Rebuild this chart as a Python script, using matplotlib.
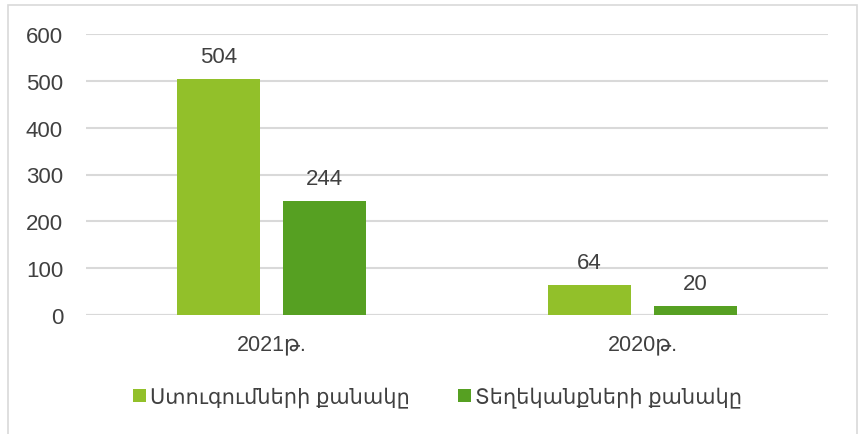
import numpy as np
import matplotlib.pyplot as plt
from matplotlib.patches import Rectangle

# Данные
categories = ["2021թ.", "2020թ."]
series_names = ["Ստուգումների քանակը", "Տեղեկանքների քանակը"]
inspections = [504, 64]
references = [244, 20]

colors = ["#92C02A", "#56A022"]
text_color = "#404040"
fonts = ["Liberation Sans", "DejaVu Sans"]
plt.rcParams["font.family"] = fonts

fig = plt.figure(figsize=(8.62, 4.35), dpi=100)
ax = fig.add_axes([86 / 862, 1 - 316 / 435, (828 - 86) / 862, (316 - 35) / 435])

x = np.arange(len(categories))
w = 0.224
off = 0.143
bars1 = ax.bar(x - off, inspections, w, color=colors[0], label=series_names[0], zorder=3)
bars2 = ax.bar(x + off, references, w, color=colors[1], label=series_names[1], zorder=3)

for bars in (bars1, bars2):
    for b in bars:
        ax.annotate(str(int(b.get_height())), (b.get_x() + b.get_width() / 2, b.get_height()),
                    xytext=(0, 8.5), textcoords="offset points",
                    ha="center", va="bottom", fontsize=16, color=text_color)

ax.set_xlim(-0.5, 1.5)
ax.set_ylim(0, 600)
ax.set_yticks(np.arange(0, 601, 100))
ax.set_xticks(x)
ax.set_xticklabels(categories)
ax.tick_params(axis="both", length=0, labelcolor=text_color)
ax.tick_params(axis="y", labelsize=16, pad=16.5)
ax.tick_params(axis="x", labelsize=15.5, pad=13)
ax.grid(axis="y", color="#D9D9D9", linewidth=1.5, zorder=0)
for s in ax.spines.values():
    s.set_visible(False)
ax.axhline(0, color="#D9D9D9", linewidth=1.5, zorder=2)

fig.legend(loc="center", bbox_to_anchor=(437.5 / 862, 1 - 398 / 435), ncol=2, frameon=False,
           fontsize=15, labelcolor=text_color, handlelength=0.62, handleheight=0.62,
           handletextpad=0.2, columnspacing=2.3)

# Рамка вокруг диаграммы
fig.patches.append(Rectangle((8 / 862, -0.1), (857 - 8) / 862, 1.1 - 6 / 435,
                             transform=fig.transFigure, fill=False,
                             edgecolor="#D9D9D9", linewidth=1.2))

fig.savefig("out.png", dpi=100)
